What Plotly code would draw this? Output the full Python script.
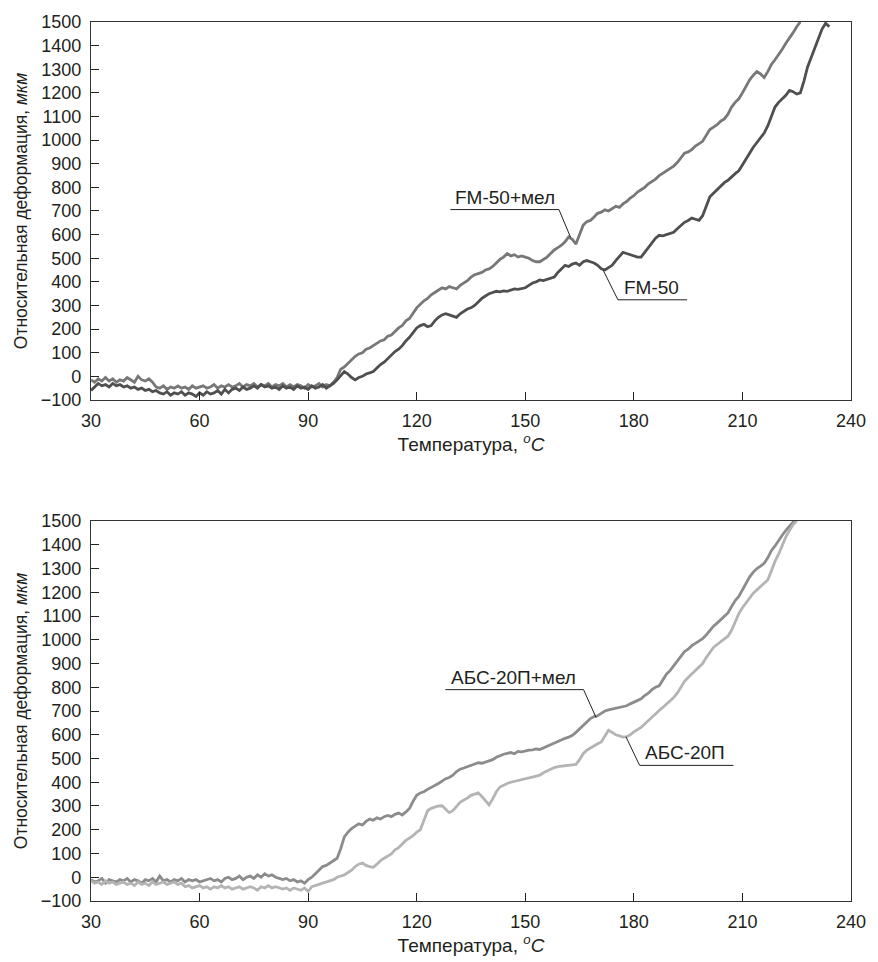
import plotly.graph_objects as go

# ---------------- data ----------------
# Temperature grid starts at 30 °C with 1 °C steps
T_START = 30

fm50_mel = [-15, -25, -10, -20, -5, -20, -10, -25, -15, -20,
            -5, -15, -25, 0, -15, -20, -10, -25, -45, -50,
            -40, -55, -45, -50, -40, -50, -45, -55, -40, -50,
            -45, -40, -50, -45, -35, -50, -40, -45, -35, -45,
            -40, -30, -45, -35, -40, -30, -45, -35, -40, -30,
            -45, -35, -40, -30, -45, -35, -45, -35, -40, -50,
            -35, -45, -40, -30, -45, -35, -40, -25, -5, 30,
            40, 55, 70, 85, 95, 100, 115, 120, 130, 140,
            150, 155, 170, 175, 190, 205, 215, 235, 245, 270,
            290, 305, 320, 330, 345, 355, 365, 375, 370, 380,
            375, 370, 385, 395, 405, 420, 430, 435, 440, 450,
            455, 465, 480, 495, 505, 520, 510, 515, 505, 510,
            505, 500, 490, 485, 485, 495, 505, 520, 535, 545,
            555, 570, 590, 580, 560, 600, 640, 655, 660, 675,
            690, 695, 705, 700, 710, 720, 715, 730, 740, 755,
            765, 780, 790, 800, 815, 825, 835, 850, 860, 870,
            880, 890, 905, 925, 945, 950, 960, 975, 985, 995,
            1020, 1045, 1055, 1065, 1080, 1090, 1110, 1140, 1160, 1175,
            1200, 1230, 1255, 1275, 1290, 1280, 1265, 1290, 1320, 1340,
            1360, 1385, 1410, 1430, 1455, 1480, 1500]

fm50 = [-60, -45, -30, -40, -35, -45, -30, -40, -35, -45,
        -40, -50, -45, -55, -50, -60, -55, -65, -60, -70,
        -75, -65, -80, -70, -75, -65, -80, -70, -75, -85,
        -70, -80, -65, -75, -70, -60, -75, -55, -70, -55,
        -50, -60, -45, -55, -50, -40, -50, -35, -45, -40,
        -50, -45, -55, -40, -50, -45, -55, -40, -50, -45,
        -55, -40, -50, -45, -35, -50, -40, -30, -15, 5,
        20, 10, -5, -15, -5, 0, 10, 15, 20, 35,
        50, 60, 75, 90, 105, 115, 130, 150, 165, 185,
        205, 215, 220, 210, 215, 235, 250, 260, 265, 260,
        255, 250, 265, 275, 285, 290, 300, 315, 330, 340,
        350, 355, 360, 358, 362, 360, 365, 370, 368, 372,
        375, 385, 395, 400, 408, 405, 410, 412, 420, 440,
        455, 470, 465, 475, 480, 470, 485, 490, 485, 480,
        470, 455, 450, 460, 470, 490, 510, 525, 520, 515,
        510, 505, 505, 525, 545, 565, 585, 597, 595, 600,
        605, 610, 625, 640, 652, 660, 670, 665, 660, 680,
        720, 760, 775, 790, 805, 820, 830, 845, 858, 870,
        895, 925, 950, 970, 990, 1010, 1030, 1060, 1100, 1140,
        1160, 1175, 1190, 1210, 1205, 1195, 1200, 1250, 1310, 1350,
        1390, 1430, 1470, 1495, 1480]

abs20_mel = [-10, -20, -15, -5, -25, -10, -15, -20, -10, -15,
             -5, -20, -10, -15, -25, -10, -15, -5, -20, 5,
             -15, -10, -20, -10, -15, -5, -20, -10, -15, -10,
             -20, -15, -10, -5, -15, -10, -20, -5, 0, -10,
             -5, 5, -10, 0, 5, -5, 10, 0, 15, 5,
             10, 0, -5, -10, -5, -15, -10, -20, -15, -25,
             -10, 0, 15, 30, 45, 50, 60, 70, 80, 120,
             170, 190, 205, 215, 225, 220, 235, 245, 240, 250,
             245, 255, 260, 255, 265, 270, 262, 275, 290, 320,
             345, 355, 360, 370, 378, 385, 395, 405, 415, 420,
             430, 445, 455, 460, 466, 470, 478, 482, 480, 486,
             490, 495, 505, 512, 518, 522, 525, 520, 530, 528,
             532, 535, 536, 540, 538, 545, 550, 557, 565, 572,
             580, 585, 590, 598, 610, 625, 640, 655, 668, 677,
             680, 690, 700, 705, 708, 712, 715, 718, 722, 730,
             738, 745, 751, 765, 775, 790, 800, 806, 830, 855,
             870, 890, 910, 930, 950, 960, 975, 985, 995, 1005,
             1020, 1040, 1057, 1070, 1085, 1100, 1113, 1140, 1165, 1182,
             1210, 1240, 1265, 1285, 1300, 1310, 1322, 1345, 1375, 1395,
             1420, 1440, 1460, 1478, 1495, 1500]

abs20 = [-15, -25, -20, -30, -15, -25, -20, -30, -25, -20,
         -30, -25, -35, -20, -30, -25, -35, -20, -30, -25,
         -20, -30, -25, -20, -30, -25, -40, -35, -45, -40,
         -35, -45, -40, -50, -40, -45, -35, -45, -40, -50,
         -45, -40, -50, -45, -40, -45, -55, -40, -45, -35,
         -45, -40, -45, -50, -45, -55, -45, -50, -55, -45,
         -60, -40, -35, -30, -25, -20, -15, -10, 0, 5,
         10, 20, 30, 45, 55, 60, 50, 45, 42, 55,
         70, 80, 90, 98, 115, 125, 140, 155, 165, 175,
         190, 200, 240, 280, 290, 295, 300, 301, 285, 272,
         280, 300, 315, 325, 333, 345, 350, 355, 340, 320,
         305, 330, 360, 380, 389, 395, 400, 403, 408, 410,
         415, 418, 422, 426, 430, 440, 448, 455, 462, 466,
         468, 470, 472, 473, 475, 495, 520, 535, 545, 555,
         562, 570, 595, 619, 610, 600, 595, 590, 592, 600,
         612, 622, 631, 645, 660, 675, 690, 702, 715, 728,
         742, 757, 775, 800, 825, 841, 855, 870, 885, 900,
         925, 948, 968, 980, 992, 1005, 1015, 1040, 1075, 1110,
         1135, 1155, 1178, 1196, 1210, 1225, 1240, 1252, 1290, 1330,
         1360, 1400, 1433, 1460, 1485, 1500]

x_ticks = [30, 60, 90, 120, 150, 180, 210, 240]
y_ticks = [-100, 0, 100, 200, 300, 400, 500, 600, 700, 800, 900,
           1000, 1100, 1200, 1300, 1400, 1500]

labels_top = ["FM-50+мел", "FM-50"]
labels_bot = ["АБС-20П+мел", "АБС-20П"]


def temps(vals):
    return list(range(T_START, T_START + len(vals)))


# ---------------- figure ----------------
FONT = "Liberation Sans, Arial, sans-serif"
TXT = "#231f20"

fig = go.Figure()
fig.add_trace(go.Scatter(x=temps(fm50_mel), y=fm50_mel, mode="lines",
                         line=dict(color="#787878", width=2.8), xaxis="x", yaxis="y"))
fig.add_trace(go.Scatter(x=temps(fm50), y=fm50, mode="lines",
                         line=dict(color="#4f4f4f", width=2.8), xaxis="x", yaxis="y"))
fig.add_trace(go.Scatter(x=temps(abs20_mel), y=abs20_mel, mode="lines",
                         line=dict(color="#8c8c8c", width=2.8), xaxis="x2", yaxis="y2"))
fig.add_trace(go.Scatter(x=temps(abs20), y=abs20, mode="lines",
                         line=dict(color="#b4b4b4", width=2.8), xaxis="x2", yaxis="y2"))

xaxis_common = dict(range=[30, 240], tickvals=x_ticks, ticks="inside", ticklen=8,
                    tickwidth=1.3, tickcolor="#222", showline=True, linecolor="#333",
                    linewidth=1.3, mirror=True, showgrid=False, zeroline=False,
                    ticklabelstandoff=4,
                    tickfont=dict(family=FONT, size=18, color=TXT),
                    title=dict(text="Температура, <i><sup>o</sup>C</i>",
                               font=dict(family=FONT, size=19, color=TXT), standoff=5))
yaxis_common = dict(range=[-100, 1500], tickvals=y_ticks, ticks="inside", ticklen=8,
                    tickwidth=1.3, tickcolor="#222", showline=True, linecolor="#333",
                    linewidth=1.3, mirror=True, showgrid=False, zeroline=False,
                    ticklabelstandoff=5,
                    tickfont=dict(family=FONT, size=18, color=TXT),
                    title=dict(text="Относительная деформация, <i>мкм</i>",
                               font=dict(family=FONT, size=17.5, color=TXT), standoff=8))

fig.update_layout(
    width=878, height=962,
    margin=dict(l=91, r=17, t=18, b=58),
    paper_bgcolor="white", plot_bgcolor="white",
    showlegend=False,
    xaxis=dict(**xaxis_common, domain=[0, 1], anchor="y"),
    yaxis=dict(**yaxis_common, domain=[0.570, 1.0], anchor="x"),
    xaxis2=dict(**xaxis_common, domain=[0, 1], anchor="y2"),
    yaxis2=dict(**yaxis_common, domain=[0.0, 0.4323], anchor="x2"),
)

# leader lines and labels
LINE = dict(color="#222", width=1)
lead = [
    ("x", "y", labels_top[0], [(129.3, 706), (159.3, 706), (162.5, 589)], 130.0, 706),
    ("x", "y", labels_top[1], [(194.7, 324), (175.6, 324), (171.5, 450)], 176.6, 324),
    ("x2", "y2", labels_bot[0], [(127.9, 790), (166.1, 790), (169.6, 671)], 129.0, 790),
    ("x2", "y2", labels_bot[1], [(207.5, 471), (181.6, 471), (177.8, 592)], 182.6, 471),
]
for xr, yr, txt, pts, tx, ty in lead:
    path = "M " + " L ".join(f"{px},{py}" for px, py in pts)
    fig.add_shape(type="path", path=path, xref=xr, yref=yr, line=LINE)
    fig.add_annotation(x=tx, y=ty, xref=xr, yref=yr, text=txt, showarrow=False,
                       xanchor="left", yanchor="bottom", yshift=0,
                       font=dict(family=FONT, size=19, color=TXT))

fig.write_html("out.html", config={"displayModeBar": False},
               post_script="document.body.style.margin='0';document.body.style.overflow='hidden';")
